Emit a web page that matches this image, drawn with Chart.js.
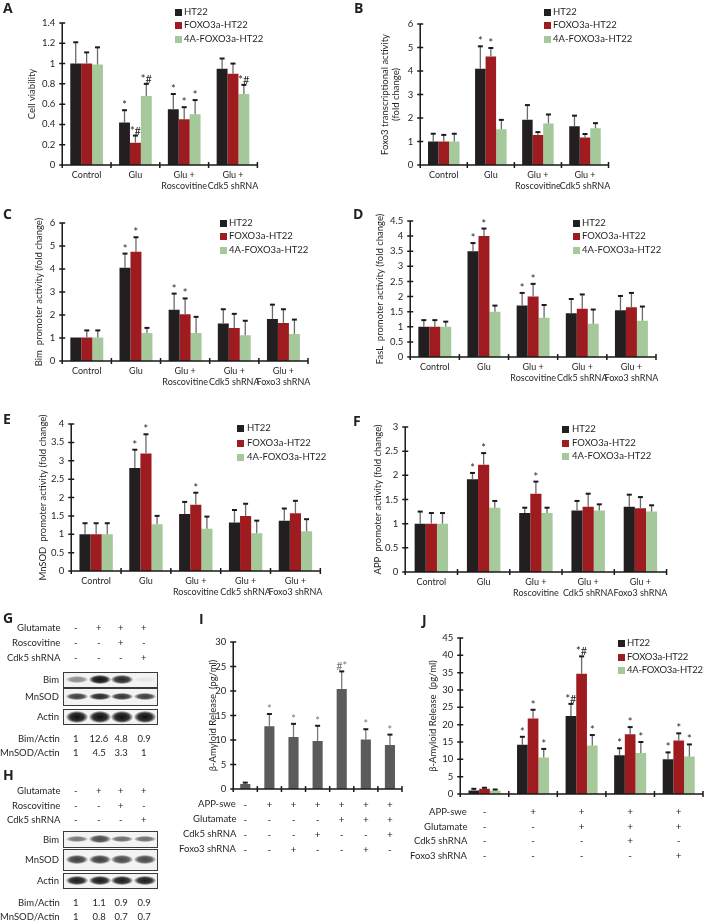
<!DOCTYPE html>
<html><head><meta charset="utf-8">
<script src="https://cdn.jsdelivr.net/npm/chart.js@4.4.1/dist/chart.umd.min.js"></script>
<style>
body{margin:0;background:#fff;width:704px;height:921px;overflow:hidden;position:relative;font-family:Lato,'Liberation Sans',sans-serif;color:#231f20}
.abs{position:absolute;white-space:nowrap;font-size:9.5px;line-height:12px;filter:grayscale(100%)}
canvas{position:absolute}
.plabel{position:absolute;font:bold 14px 'Open Sans',sans-serif;line-height:16px;filter:grayscale(100%)}
.box{position:absolute;border:1.5px solid #3a3a3a;background:#f3f3f3;box-sizing:border-box;overflow:hidden}
.band{position:absolute;border-radius:50%}
</style></head><body>
<script>
// ---------------- DATA ----------------
const seriesNames = ['HT22', 'FOXO3a-HT22', '4A-FOXO3a-HT22'];

const catsA = ['Control', 'Glu', ['Glu +', 'Roscovitine'], ['Glu +', 'Cdk5 shRNA']];
const catsC = ['Control', 'Glu', ['Glu +', 'Roscovitine'], ['Glu +', 'Cdk5 shRNA'], ['Glu +', 'Foxo3 shRNA']];

// A: cell viability
const aHT22 = [1.00, 0.42, 0.55, 0.95];   const aHT22Err = [0.21, 0.12, 0.15, 0.10];   const aHT22Mark = ['', '*', '*', ''];
const aFOXO = [1.00, 0.22, 0.45, 0.90];   const aFOXOErr = [0.11, 0.07, 0.12, 0.10];   const aFOXOMark = ['', '*#', '*', ''];
const a4A   = [0.99, 0.68, 0.50, 0.70];   const a4AErr   = [0.17, 0.12, 0.14, 0.09];   const a4AMark   = ['', '*#', '*', '*#'];

// B: Foxo3 transcriptional activity
const bHT22 = [1.00, 4.10, 1.93, 1.65];   const bHT22Err = [0.33, 0.95, 0.62, 0.45];   const bHT22Mark = ['', '*', '', ''];
const bFOXO = [1.00, 4.62, 1.28, 1.17];   const bFOXOErr = [0.28, 0.36, 0.12, 0.15];   const bFOXOMark = ['', '*', '', ''];
const b4A   = [1.00, 1.52, 1.77, 1.56];   const b4AErr   = [0.33, 0.40, 0.38, 0.22];   const b4AMark   = ['', '', '', ''];

// C: Bim promoter activity
const cHT22 = [1.02, 4.05, 2.23, 1.63, 1.83]; const cHT22Err = [0.00, 0.62, 0.70, 0.62, 0.62]; const cHT22Mark = ['', '*', '*', '', ''];
const cFOXO = [1.02, 4.75, 2.03, 1.44, 1.65]; const cFOXOErr = [0.31, 0.63, 0.69, 0.61, 0.60]; const cFOXOMark = ['', '*', '*', '', ''];
const c4A   = [1.02, 1.22, 1.22, 1.12, 1.17]; const c4AErr   = [0.31, 0.22, 0.70, 0.63, 0.63]; const c4AMark   = ['', '', '', '', ''];

// D: FasL promoter activity
const dHT22 = [1.00, 3.50, 1.70, 1.45, 1.55]; const dHT22Err = [0.22, 0.27, 0.42, 0.47, 0.47]; const dHT22Mark = ['', '*', '*', '', ''];
const dFOXO = [1.00, 4.00, 2.00, 1.60, 1.65]; const dFOXOErr = [0.22, 0.25, 0.42, 0.47, 0.47]; const dFOXOMark = ['', '*', '*', '', ''];
const d4A   = [1.00, 1.50, 1.30, 1.10, 1.20]; const d4AErr   = [0.17, 0.20, 0.42, 0.47, 0.47]; const d4AMark   = ['', '', '', '', ''];

// E: MnSOD promoter activity
const eHT22 = [1.00, 2.80, 1.55, 1.32, 1.37]; const eHT22Err = [0.30, 0.50, 0.33, 0.34, 0.33]; const eHT22Mark = ['', '*', '', '', ''];
const eFOXO = [1.00, 3.20, 1.80, 1.50, 1.57]; const eFOXOErr = [0.30, 0.52, 0.33, 0.33, 0.34]; const eFOXOMark = ['', '*', '*', '', ''];
const e4A   = [1.00, 1.27, 1.15, 1.03, 1.08]; const e4AErr   = [0.30, 0.23, 0.33, 0.34, 0.33]; const e4AMark   = ['', '', '', '', ''];

// F: APP promoter activity
const fHT22 = [1.00, 1.92, 1.22, 1.27, 1.35]; const fHT22Err = [0.25, 0.13, 0.11, 0.20, 0.25]; const fHT22Mark = ['', '*', '', '', ''];
const fFOXO = [1.00, 2.22, 1.62, 1.35, 1.32]; const fFOXOErr = [0.22, 0.24, 0.25, 0.27, 0.23]; const fFOXOMark = ['', '*', '*', '', ''];
const f4A   = [1.00, 1.33, 1.22, 1.27, 1.25]; const f4AErr   = [0.22, 0.14, 0.11, 0.13, 0.13]; const f4AMark   = ['', '', '', '', ''];

// I: beta-amyloid release (single series)
const iAppSwe    = ['-', '+', '+', '+', '+', '+', '+'];
const iGlutamate = ['-', '-', '-', '-', '+', '+', '+'];
const iCdk5      = ['-', '-', '-', '+', '-', '-', '+'];
const iFoxo3     = ['-', '-', '+', '-', '-', '+', '-'];
const iValues = [1.0, 12.8, 10.6, 9.8, 20.4, 10.1, 9.0];
const iErr    = [0.3, 2.5, 2.7, 3.1, 3.6, 2.1, 2.1];
const iMark   = ['', '*', '*', '*', '#*', '*', '*'];

// J: beta-amyloid release by cell line
const jAppSwe    = ['-', '+', '+', '+', '+'];
const jGlutamate = ['-', '-', '+', '+', '+'];
const jCdk5      = ['-', '-', '-', '+', '-'];
const jFoxo3     = ['-', '-', '-', '-', '+'];
const jHT22 = [1.0, 14.2, 22.5, 11.2, 10.0]; const jHT22Err = [0.5, 2.3, 3.5, 2.0, 2.0]; const jHT22Mark = ['', '*', '*#', '*', '*'];
const jFOXO = [1.5, 21.8, 34.7, 17.2, 15.4]; const jFOXOErr = [0.3, 2.5, 5.0, 2.1, 2.1]; const jFOXOMark = ['', '*', '*#', '*', '*'];
const j4A   = [1.0, 10.5, 14.0, 11.8, 10.8]; const j4AErr   = [0.3, 2.5, 3.0, 3.2, 3.5]; const j4AMark   = ['', '*', '*', '*', '*'];

// G / H western blots (treatments and quantification)
const gGlutamate   = ['-', '+', '+', '+'];
const gRoscovitine = ['-', '-', '+', '-'];
const gCdk5        = ['-', '-', '-', '+'];
const gBimActin    = ['1', '12.6', '4.8', '0.9'];
const gMnsodActin  = ['1', '4.5', '3.3', '1'];
const gBimBand   = [0.45, 1.0, 0.9, 0.06];
const gMnsodBand = [0.8, 0.9, 0.85, 0.8];
const gActinBand = [1.0, 1.0, 1.0, 1.0];
const hGlutamate   = ['-', '+', '+', '+'];
const hRoscovitine = ['-', '-', '+', '-'];
const hCdk5        = ['-', '-', '-', '+'];
const hBimActin    = ['1', '1.1', '0.9', '0.9'];
const hMnsodActin  = ['1', '0.8', '0.7', '0.7'];
const hBimBand   = [0.55, 0.75, 0.6, 0.6];
const hMnsodBand = [0.8, 0.8, 0.75, 0.75];
const hActinBand = [0.95, 0.95, 0.95, 0.95];

// ---------------- STYLE ----------------
const FONT = "Lato, 'Liberation Sans', sans-serif";
const TXT = '#231f20';
const COLORS = ['#231f20', '#9e1b20', '#a5c99b'];

// ---------------- HELPERS ----------------
function txt(str, x, y, opts = {}) {
  const d = document.createElement('div');
  d.className = 'abs';
  d.textContent = str;
  if (opts.size) d.style.fontSize = opts.size + 'px';
  if (opts.ls) d.style.letterSpacing = opts.ls + 'px';
  document.body.appendChild(d);
  const w = d.offsetWidth, h = d.offsetHeight;
  let l = x;
  if (opts.align === 'right') l = x - w;
  else if (opts.align === 'center') l = x - w / 2;
  d.style.left = l + 'px';
  d.style.top = (y - h / 2) + 'px';
  return d;
}
function panelLabel(ch, x, y) {
  const d = document.createElement('div');
  d.className = 'plabel'; d.textContent = ch;
  d.style.left = x + 'px'; d.style.top = y + 'px';
  document.body.appendChild(d);
}
function legend(sqX, txX, rows, ls) {
  seriesNames.forEach((n, k) => {
    const s = document.createElement('div');
    s.style.cssText = `position:absolute;left:${sqX}px;top:${rows[k] - 3.5}px;width:7px;height:7px;background:${COLORS[k]}`;
    document.body.appendChild(s);
    txt(n, txX, rows[k], { ls: ls });
  });
}

const errPlugin = {
  id: 'errmarks',
  afterDatasetsDraw(chart) {
    const ctx = chart.ctx, ys = chart.scales.y;
    chart.data.datasets.forEach((ds, di) => {
      const meta = chart.getDatasetMeta(di);
      meta.data.forEach((bar, i) => {
        const v = ds.data[i], e = ds.errors ? ds.errors[i] : 0;
        const x = bar.x, yv = ys.getPixelForValue(v), yt = ys.getPixelForValue(v + e);
        ctx.save();
        if (e > 0) {
          ctx.strokeStyle = ds.errColor || '#6a6a6a'; ctx.lineWidth = 1.3;
          ctx.beginPath(); ctx.moveTo(x, yv); ctx.lineTo(x, yt); ctx.stroke();
          ctx.strokeStyle = '#1a1a1a'; ctx.lineWidth = 2;
          ctx.beginPath(); ctx.moveTo(x - 2.5, yt); ctx.lineTo(x + 2.5, yt); ctx.stroke();
        }
        const m = ds.marks ? ds.marks[i] : '';
        if (m) {
          ctx.fillStyle = ds.markColor || '#231f20';
          ctx.font = '11px ' + FONT; ctx.textAlign = 'center'; ctx.textBaseline = 'alphabetic';
          ctx.fillText(m, x, yt - 1);
        }
        ctx.restore();
      });
    });
  },
  afterDraw(chart) {
    const ctx = chart.ctx, ys = chart.scales.y, xs = chart.scales.x, a = chart.chartArea;
    ctx.save();
    ctx.strokeStyle = '#1a1a1a'; ctx.lineWidth = 1.5;
    ctx.beginPath();
    ctx.moveTo(a.left, ys.getPixelForValue(0)); ctx.lineTo(a.left, ys.getPixelForValue(ys.max));
    ctx.moveTo(a.left, a.bottom); ctx.lineTo(a.right, a.bottom);
    ys.ticks.forEach(t => {
      const y = ys.getPixelForValue(t.value);
      ctx.moveTo(a.left - 3, y); ctx.lineTo(a.left + 3, y);
    });
    const n = xs.ticks.length;
    for (let k = 0; k <= n; k++) {
      let x;
      if (k === 0) x = a.left; else if (k === n) x = a.right;
      else x = (xs.getPixelForValue(k - 1) + xs.getPixelForValue(k)) / 2;
      ctx.moveTo(x, a.bottom - 3); ctx.lineTo(x, a.bottom + 3);
    }
    ctx.stroke();
    ctx.restore();
  }
};

function makeChart(p) {
  const PT = 14, PR = 6;
  const titleSize = 9.5, titleLH = 1.1;
  const left = p.titleX - titleSize * titleLH / 2;
  const yW = p.x0 - left;
  const top = p.yTop - PT;
  const W = Math.round(p.x1 - left + PR);
  const H = Math.round(p.yBot - top + p.xH);
  const cv = document.createElement('canvas');
  cv.width = W; cv.height = H;
  cv.style.left = left + 'px'; cv.style.top = top + 'px';
  cv.style.width = W + 'px'; cv.style.height = H + 'px';
  document.body.appendChild(cv);
  new Chart(cv, {
    type: 'bar',
    data: { labels: p.labels, datasets: p.datasets },
    options: {
      responsive: false, animation: false, devicePixelRatio: 1,
      layout: { padding: { left: 0, top: PT, right: PR, bottom: 0 } },
      plugins: { legend: { display: false }, tooltip: { enabled: false } },
      datasets: { bar: { categoryPercentage: p.catPct, barPercentage: 1 } },
      scales: {
        x: {
          grid: { display: false, drawTicks: false }, border: { display: false },
          ticks: { autoSkip: false, maxRotation: 0, minRotation: 0, color: TXT, padding: p.xPad,
                   font: { family: FONT, size: p.xFont || 9, lineHeight: p.xLH || 1.2 } },
          afterFit(s) { s.height = p.xH; }
        },
        y: {
          min: 0, max: p.max,
          grid: { display: false, drawTicks: false }, border: { display: false },
          ticks: { stepSize: p.step, color: TXT, padding: 7, font: { family: FONT, size: 9.5 },
                   callback: v => String(parseFloat(Number(v).toFixed(2))) },
          title: { display: true, text: p.title, color: TXT, padding: { top: 0, bottom: 0 },
                   font: { family: FONT, size: titleSize, lineHeight: titleLH } },
          afterFit(s) { s.width = yW; }
        }
      }
    },
    plugins: [errPlugin]
  });
}

function triple(v, e, m) {
  return seriesNames.map((n, k) => ({
    label: n, data: v[k], errors: e[k], marks: m[k], backgroundColor: COLORS[k], borderWidth: 0
  }));
}

// ---------------- PANELS ----------------
makeChart({ x0: 62, x1: 258, yTop: 23, yBot: 165, titleX: 32, max: 1.4, step: 0.2, title: 'Cell viability',
  labels: catsA, xH: 30, xPad: 5, catPct: 0.67,
  datasets: triple([aHT22, aFOXO, a4A], [aHT22Err, aFOXOErr, a4AErr], [aHT22Mark, aFOXOMark, a4AMark]) });
makeChart({ x0: 420, x1: 610, yTop: 24, yBot: 165, titleX: 385, max: 6, step: 1,
  title: ['Foxo3 transcriptional activity', '(fold change)'],
  labels: catsA, xH: 30, xPad: 5, catPct: 0.67,
  datasets: triple([bHT22, bFOXO, b4A], [bHT22Err, bFOXOErr, b4AErr], [bHT22Mark, bFOXOMark, b4AMark]) });
makeChart({ x0: 62, x1: 310, yTop: 223, yBot: 361, titleX: 39, max: 6, step: 1,
  title: 'Bim  promoter activity (fold change)',
  labels: catsC, xH: 30, xPad: 5, catPct: 0.67,
  datasets: triple([cHT22, cFOXO, c4A], [cHT22Err, cFOXOErr, c4AErr], [cHT22Mark, cFOXOMark, c4AMark]) });
makeChart({ x0: 410, x1: 658, yTop: 221, yBot: 357, titleX: 380, max: 4.5, step: 0.5,
  title: 'FasL  promoter activity (fold change)',
  labels: catsC, xH: 30, xPad: 5, catPct: 0.67,
  datasets: triple([dHT22, dFOXO, d4A], [dHT22Err, dFOXOErr, d4AErr], [dHT22Mark, dFOXOMark, d4AMark]) });
makeChart({ x0: 71, x1: 322, yTop: 424, yBot: 571, titleX: 43, max: 4, step: 0.5,
  title: 'MnSOD  promoter activity (fold change)',
  labels: catsC, xH: 30, xPad: 5, catPct: 0.67,
  datasets: triple([eHT22, eFOXO, e4A], [eHT22Err, eFOXOErr, e4AErr], [eHT22Mark, eFOXOMark, e4AMark]) });
makeChart({ x0: 405, x1: 667, yTop: 427, yBot: 572, titleX: 378, max: 3, step: 0.5,
  title: 'APP  promoter activity (fold change)',
  labels: catsC, xH: 30, xPad: 5, catPct: 0.64,
  datasets: triple([fHT22, fFOXO, f4A], [fHT22Err, fFOXOErr, f4AErr], [fHT22Mark, fFOXOMark, f4AMark]) });

makeChart({ x0: 233, x1: 402, yTop: 642, yBot: 789, titleX: 213, max: 30, step: 5,
  title: 'β-Amyloid Release  (pg/ml)',
  labels: iAppSwe.map((v, k) => [v, iGlutamate[k], iCdk5[k], iFoxo3[k]]),
  xH: 75, xPad: 8, xFont: 10, xLH: 1.5, catPct: 0.42,
  datasets: [{ label: 'β-Amyloid', data: iValues, errors: iErr, marks: iMark, backgroundColor: '#5b5b5b',
               borderWidth: 0, markColor: '#777', errColor: '#7a7a7a' }] });

makeChart({ x0: 460, x1: 703, yTop: 638, yBot: 794, titleX: 433, max: 45, step: 5,
  title: 'β-Amyloid Release  (pg/ml)',
  labels: jAppSwe.map((v, k) => [v, jGlutamate[k], jCdk5[k], jFoxo3[k]]),
  xH: 75, xPad: 11, xFont: 10, xLH: 1.45, catPct: 0.66,
  datasets: triple([jHT22, jFOXO, j4A], [jHT22Err, jFOXOErr, j4AErr], [jHT22Mark, jFOXOMark, j4AMark]) });

// legends
legend(175, 184, [12, 25, 39]);
legend(544, 553, [12, 25, 39]);
legend(220, 229, [223, 236, 250]);
legend(573, 582, [223, 236, 250]);
legend(237, 247, [428, 443, 457]);
legend(562, 572, [429, 443, 456]);
legend(618, 627, [643, 657, 670], -0.25);

// row labels for I and J tables
['APP-swe', 'Glutamate', 'Cdk5 shRNA', 'Foxo3 shRNA'].forEach((n, k) => {
  txt(n, 236, 804 + k * 15, { align: 'right' });
  txt(n, 467, 812 + k * 14.5, { align: 'right' });
});

// panel letters
panelLabel('A', 3, 0); panelLabel('B', 354, 0);
panelLabel('C', 3, 206); panelLabel('D', 353, 206);
panelLabel('E', 3, 411); panelLabel('F', 353, 413);
panelLabel('G', 3, 610); panelLabel('I', 199, 611);
panelLabel('H', 3, 767); panelLabel('J', 422, 612);

// ---------------- BLOTS ----------------
const laneX = [76, 99, 121, 144];
function treatRows(rows, ys) {
  rows.forEach((r, k) => {
    txt(r.name, 60, ys[k], { align: 'right' });
    r.vals.forEach((v, j) => txt(v, laneX[j], ys[k], { align: 'center' }));
  });
}
function blot(name, top, h, bands, thick) {
  const b = document.createElement('div');
  b.className = 'box';
  b.style.left = '63px'; b.style.top = top + 'px'; b.style.width = '95px'; b.style.height = h + 'px';
  document.body.appendChild(b);
  bands.forEach((a, j) => {
    const d = document.createElement('div');
    d.className = 'band';
    const bh = thick * (0.45 + 0.55 * a) + 2;
    const bw = 22;
    d.style.width = bw + 'px'; d.style.height = bh + 'px';
    d.style.left = (laneX[j] - 63 - bw / 2) + 'px';
    d.style.top = ((h - 3) / 2 - bh / 2) + 'px';
    d.style.background = `radial-gradient(ellipse at center, rgba(15,15,15,${a}) 0%, rgba(15,15,15,${a * 0.85}) 45%, rgba(15,15,15,0) 75%)`;
    b.appendChild(d);
  });
  txt(name, 59, top + h / 2, { align: 'right' });
}
treatRows([{ name: 'Glutamate', vals: gGlutamate }, { name: 'Roscovitine', vals: gRoscovitine }, { name: 'Cdk5 shRNA', vals: gCdk5 }], [628, 643, 658]);
blot('Bim', 672, 16, gBimBand, 7);
blot('MnSOD', 688, 18, gMnsodBand, 6);
blot('Actin', 709, 16, gActinBand, 10);
treatRows([{ name: 'Bim/Actin', vals: gBimActin }, { name: 'MnSOD/Actin', vals: gMnsodActin }], [739, 753]);

treatRows([{ name: 'Glutamate', vals: hGlutamate }, { name: 'Roscovitine', vals: hRoscovitine }, { name: 'Cdk5 shRNA', vals: hCdk5 }], [791, 806, 820]);
blot('Bim', 831, 17, hBimBand, 6);
blot('MnSOD', 849, 22, hMnsodBand, 8);
blot('Actin', 873, 16, hActinBand, 8);
treatRows([{ name: 'Bim/Actin', vals: hBimActin }, { name: 'MnSOD/Actin', vals: hMnsodActin }], [903, 917]);
</script>
</body></html>
